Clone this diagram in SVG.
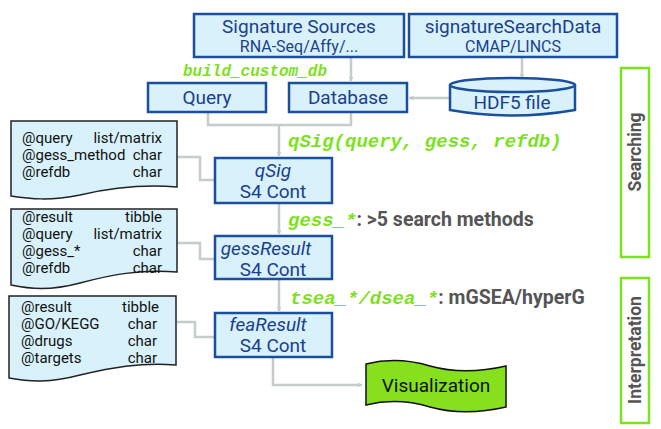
<svg xmlns="http://www.w3.org/2000/svg" width="661" height="429" viewBox="0 0 661 429">
<defs>
<marker id="ah" viewBox="0 0 10 10" refX="9" refY="5" markerWidth="5" markerHeight="5" orient="auto" markerUnits="userSpaceOnUse">
<path d="M0,0 L10,5 L0,10 z" fill="#c4cccc"/>
</marker>
<style>
.box{fill:#d8f1fa;stroke:#1b4f9c;stroke-width:2.5}
.doc{fill:#d8f1fa;stroke:#222;stroke-width:1.5}
.t{font-family:Roboto,"Liberation Sans",sans-serif;fill:#1b3f8f;text-anchor:middle}
.big{font-size:19px}
.sm{font-size:16px}
.it{font-style:italic}
.dt{font-family:Roboto,"Liberation Sans",sans-serif;font-size:15px;fill:#111}
.r{text-anchor:end}
.con{fill:none;stroke:#c4cccc;stroke-width:2.5}
.code{font-family:"Liberation Mono","DejaVu Sans Mono",monospace;font-weight:bold;font-style:italic;fill:#7de21e;font-size:19px}
.bcd{font-size:16px}
.gray{font-family:Roboto,"Liberation Sans",sans-serif;font-weight:bold;fill:#555;font-size:19.5px;font-style:normal}
.side{fill:#fff;stroke:#7de21e;stroke-width:2.5}
.st{font-family:Roboto,"Liberation Sans",sans-serif;font-weight:bold;fill:#555;font-size:17.5px;text-anchor:middle}
</style>
</defs>

<g id="connectors">
<path class="con" d="M351,57 V81" marker-end="url(#ah)"/>
<path class="con" d="M522,57 V78" marker-end="url(#ah)"/>
<path class="con" d="M450,98 H409" marker-end="url(#ah)"/>
<path class="con" d="M208,112 V125 H351 V112"/>
<path class="con" d="M279,125 V156" marker-end="url(#ah)"/>
<path class="con" d="M279,203 V234" marker-end="url(#ah)"/>
<path class="con" d="M279,279 V311" marker-end="url(#ah)"/>
<path class="con" d="M177,157 H200 V180 H214"/>
<path class="con" d="M177,243 H200 V259 H214"/>
<path class="con" d="M177,322 H195 V337 H214"/>
<path class="con" d="M273,357 V385 H362" marker-end="url(#ah)"/>
</g>

<g id="edge-labels">
<text class="code bcd" x="183" y="76">build_custom_db</text>
<text class="code" x="288" y="147">qSig(query, gess, refdb)</text>
<text class="code" x="288" y="226">gess_*<tspan class="gray">: &gt;5 search methods</tspan></text>
<text class="code" x="290" y="304">tsea_*/dsea_*<tspan class="gray">: mGSEA/hyperG</tspan></text>
</g>

<g id="sigsources">
<rect class="box" x="194" y="14" width="210" height="43"/>
<text class="t big" x="299" y="33">Signature Sources</text>
<text class="t sm" x="299" y="52">RNA-Seq/Affy/...</text>
</g>
<g id="sigsearchdata">
<rect class="box" x="409" y="14" width="208" height="43"/>
<text class="t big" x="513" y="33">signatureSearchData</text>
<text class="t sm" x="513" y="52">CMAP/LINCS</text>
</g>
<g id="query">
<rect class="box" x="148" y="83" width="118" height="29"/>
<text class="t big" x="207" y="104">Query</text>
</g>
<g id="database">
<rect class="box" x="289" y="83" width="118" height="29"/>
<text class="t big" x="348" y="104">Database</text>
</g>
<g id="hdf5">
<path class="box" d="M450,85 V110 Q512,121 575,110 V85"/>
<ellipse class="box" cx="512.5" cy="85" rx="62.5" ry="7"/>
<text class="t big" x="512" y="109">HDF5 file</text>
</g>

<g id="qsig">
<rect class="box" x="215" y="158" width="117" height="45"/>
<text class="t big it" x="273" y="177">qSig</text>
<text class="t big" x="273" y="198">S4 Cont</text>
</g>
<g id="gessresult">
<rect class="box" x="215" y="236" width="117" height="43"/>
<text class="t big it" x="266" y="255">gessResult</text>
<text class="t big" x="273" y="276">S4 Cont</text>
</g>
<g id="fearesult">
<rect class="box" x="215" y="313" width="117" height="44"/>
<text class="t big it" x="268" y="331">feaResult</text>
<text class="t big" x="273" y="352">S4 Cont</text>
</g>

<g id="doc-qsig">
<path class="doc" d="M11,121 H177 V187 C140,184 110,188 80,195 C50,201 30,199 11,196 Z"/>
<text class="dt" x="22" y="143">@query</text>
<text class="dt r" x="162" y="143">list/matrix</text>
<text class="dt" x="22" y="160">@gess_method</text>
<text class="dt r" x="162" y="160">char</text>
<text class="dt" x="22" y="177">@refdb</text>
<text class="dt r" x="162" y="177">char</text>
</g>
<g id="doc-gess">
<path class="doc" d="M11,209 H177 V272 C140,269 110,275 80,283 C50,291 30,289 11,285 Z"/>
<text class="dt" x="22" y="222">@result</text>
<text class="dt r" x="162" y="222">tibble</text>
<text class="dt" x="22" y="239">@query</text>
<text class="dt r" x="162" y="239">list/matrix</text>
<text class="dt" x="22" y="256">@gess_*</text>
<text class="dt r" x="162" y="256">char</text>
<text class="dt" x="22" y="273">@refdb</text>
<text class="dt r" x="162" y="273">char</text>
</g>
<g id="doc-fea">
<path class="doc" d="M9,296 H176 V365 C140,362 110,368 80,375 C50,383 30,382 9,378 Z"/>
<text class="dt" x="21" y="312">@result</text>
<text class="dt r" x="159" y="312">tibble</text>
<text class="dt" x="21" y="329">@GO/KEGG</text>
<text class="dt r" x="157" y="329">char</text>
<text class="dt" x="21" y="346">@drugs</text>
<text class="dt r" x="157" y="346">char</text>
<text class="dt" x="21" y="363">@targets</text>
<text class="dt r" x="157" y="363">char</text>
</g>

<g id="visualization">
<path d="M366,364 C390,358 410,360 430,366 C455,373 480,372 506,366 V407 C480,413 455,414 430,407 C410,401 390,399 366,405 Z" fill="#86e01e" stroke="#111" stroke-width="1.5"/>
<text x="436" y="392" font-family="Roboto,'Liberation Sans',sans-serif" font-size="19" fill="#111" text-anchor="middle">Visualization</text>
</g>

<g id="searching">
<rect class="side" x="621" y="68" width="28" height="189"/>
<text class="st" transform="translate(641,152) rotate(-90)">Searching</text>
</g>
<g id="interpretation">
<rect class="side" x="621" y="278" width="28" height="145"/>
<text class="st" transform="translate(641,350) rotate(-90)">Interpretation</text>
</g>
</svg>
